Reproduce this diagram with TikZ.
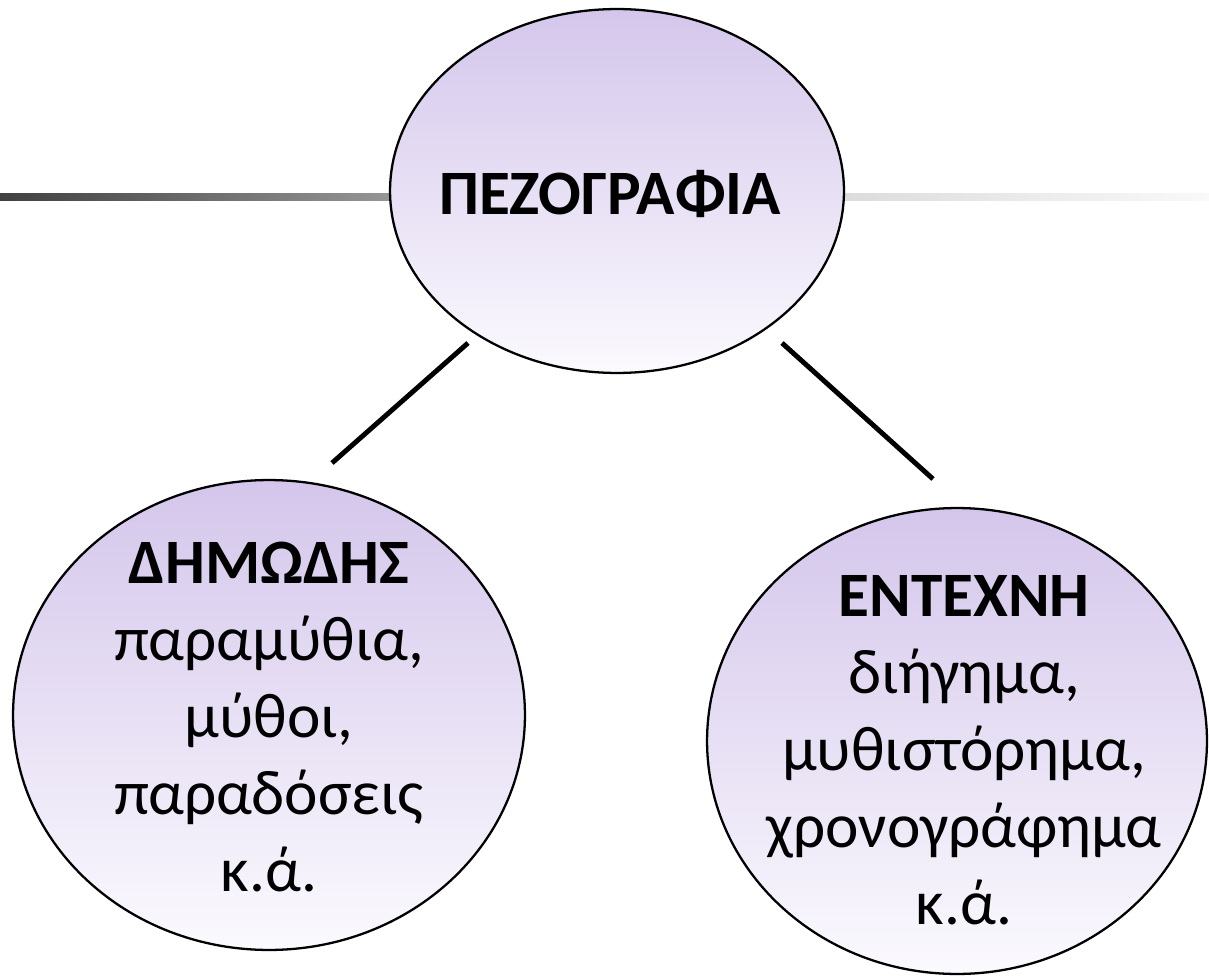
\documentclass[tikz,border=0pt]{standalone}
\usepackage{fontspec}
\setmainfont{Carlito}
\usepackage{tikz}
\usetikzlibrary{shapes}
\usetikzlibrary{calc}
\definecolor{lavTop}{RGB}{212,198,235}
\definecolor{lavBot}{RGB}{251,250,254}
\tikzset{bubble/.style={ellipse, draw, line width=1.3pt, top color=lavTop, bottom color=lavBot, inner sep=0pt}}
\tikzset{bubbleText/.style={align=center, font=\fontsize{36}{43.9}\selectfont}}
\tikzset{branch/.style={line width=2.8pt}}

\begin{document}
\begin{tikzpicture}[x=0.02cm, y=-0.02cm]
\useasboundingbox (0,0) rectangle (1209,976);

% grey rule behind the top bubble
\shade[left color={rgb,255:red,64;green,64;blue,64}, right color={rgb,255:red,200;green,200;blue,200}] (0,194) rectangle (617,201);
\shade[left color={rgb,255:red,202;green,202;blue,202}, right color={rgb,255:red,249;green,249;blue,249}] (617,194) rectangle (1209,201);

\node[bubble, minimum width=9.08cm, minimum height=7.28cm] (prose) at (617,191) { };
\node[bubbleText] (proseText) at (610,194) {\textbf{ΠΕΖΟΓΡΑΦΙΑ}};

\node[bubble, minimum width=10.24cm, minimum height=9.4cm] (folk) at (269,715) { };
\node[bubbleText] (folkText) at (269,717) {\textbf{ΔΗΜΩΔΗΣ}\\ παραμύθια,\\ μύθοι,\\ παραδόσεις\\ κ.ά.};

\node[bubble, minimum width=10cm, minimum height=9.32cm] (art) at (957,741) { };
\node[bubbleText] (artText) at (964,750) {\textbf{ΕΝΤΕΧΝΗ}\\ διήγημα,\\ μυθιστόρημα,\\ χρονογράφημα\\ κ.ά.};

\coordinate (proseSW) at (468,343);
\coordinate (folkN) at (332,463);
\coordinate (proseSE) at (782,343);
\coordinate (artN) at (933,479);

\draw[branch] (proseSW) -- (folkN);
\draw[branch] (proseSE) -- (artN);

\end{tikzpicture}
\end{document}
